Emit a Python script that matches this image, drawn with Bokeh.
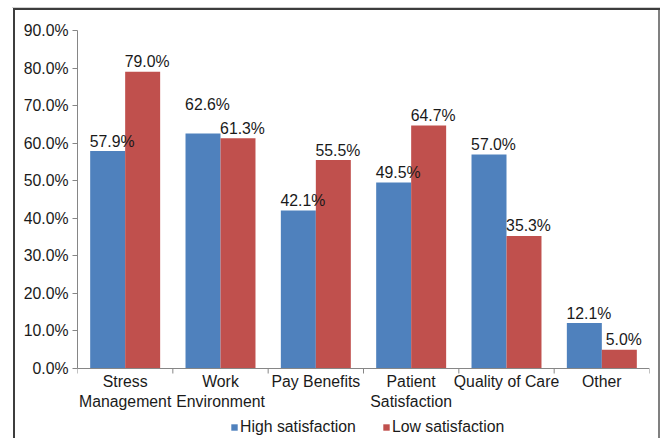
import math
from bokeh.plotting import figure
from bokeh.models import (ColumnDataSource, FixedTicker, PrintfTickFormatter, Range1d,
                          Legend, LegendItem, Span)
from bokeh.transform import dodge
from bokeh.core.properties import value
from bokeh.embed import file_html
from bokeh.resources import INLINE

categories = ["Stress Management", "Work Environment", "Pay Benefits",
              "Patient Satisfaction", "Quality of Care", "Other"]
category_labels = ["Stress\nManagement", "Work\nEnvironment", "Pay Benefits",
                   "Patient\nSatisfaction", "Quality of Care", "Other"]
high_satisfaction = [57.9, 62.6, 42.1, 49.5, 57.0, 12.1]
low_satisfaction = [79.0, 61.3, 55.5, 64.7, 35.3, 5.0]
y_ticks = [0, 10, 20, 30, 40, 50, 60, 70, 80, 90]

# extra upward shift (px) of data labels, to keep them from overlapping (style only)
high_label_lift = [0, 19, 0, 0, 0, 0]
low_label_lift = [0, 0, 0, 0, 0, 0]

FONT = "Liberation Sans"
FS = "15.8px"
BLUE = "#4F81BD"
RED = "#C0504D"
AXIS = "#868686"
TXT = "#1a1a1a"

# plot geometry (px): axis area top=30, x axis at 368, canvas bottom 438
H, TOP, AXIS_Y = 438, 30, 368
Y_MAX = y_ticks[-1]
y_lo = -Y_MAX * (H - AXIS_Y) / (AXIS_Y - TOP)   # room below the 0 line for labels/legend

n = len(categories)
pos = [i + 0.5 for i in range(n)]
bounds = list(range(n + 1))
src = ColumnDataSource(dict(
    x=pos, cat=categories, cat_label=category_labels,
    zero=[0] * n,
    high=high_satisfaction, low=low_satisfaction,
    high_label=["%.1f%%" % v for v in high_satisfaction],
    low_label=["%.1f%%" % v for v in low_satisfaction],
    high_off=[-10 - d for d in high_label_lift],
    low_off=[-10 - d for d in low_label_lift],
))

p = figure(width=660, height=H, x_range=Range1d(0, n),
           y_range=Range1d(y_lo, Y_MAX), output_backend="svg", toolbar_location=None,
           x_axis_location=None,
           min_border_left=77, min_border_right=11, min_border_top=TOP,
           min_border_bottom=0)
p.outline_line_color = None
p.grid.visible = False
p.background_fill_color = "white"
p.border_fill_alpha = 0
# outer chart frame (left, top and right edges) drawn behind the transparent border
p.styles = {
    "background": ("linear-gradient(#3d3d3d,#3d3d3d) 13px 8px / 2px 470px no-repeat, "
                   "linear-gradient(#3d3d3d,#3d3d3d) 13px 8px / 660px 2px no-repeat, "
                   "linear-gradient(#d0d0d0,#d0d0d0) 12px 7px / 660px 1px no-repeat, "
                   "linear-gradient(#808080,#808080) 658px 8px / 2px 470px no-repeat, "
                   "white"),
}

W = 0.367
off = W / 2
r1 = p.vbar(x=dodge("x", -off), top="high", bottom=0, width=W, source=src,
            fill_color=BLUE, line_color=None)
r2 = p.vbar(x=dodge("x", off), top="low", bottom=0, width=W, source=src,
            fill_color=RED, line_color=None)

for col, lab, yo, d in (("high", "high_label", "high_off", -off),
                        ("low", "low_label", "low_off", off)):
    p.text(x=dodge("x", d), y=col, text=lab, source=src, x_offset=4.5, y_offset=yo,
           text_align="center", text_baseline="alphabetic",
           text_font=value(FONT), text_font_size=FS, text_color=TXT)

# category (x) axis: line at 0, ticks at category boundaries, labels under centres
p.add_layout(Span(location=0, dimension="width", line_color=AXIS, line_width=1))
p.ray(x=bounds, y=[0] * len(bounds), length=5, length_units="screen",
      angle=-math.pi / 2, line_color=AXIS, line_width=1)
p.text(x="x", y="zero", text="cat_label", source=src, y_offset=4.5,
       text_align="center", text_baseline="top", text_line_height=1.2,
       text_font=value(FONT), text_font_size=FS, text_color=TXT)

# y axis
p.yaxis.ticker = FixedTicker(ticks=y_ticks)
p.yaxis.bounds = (0, Y_MAX)
p.yaxis.formatter = PrintfTickFormatter(format="%.1f%%")
p.yaxis.major_tick_out = 5
p.yaxis.major_tick_in = 0
p.yaxis.minor_tick_line_color = None
p.yaxis.axis_line_color = AXIS
p.yaxis.major_tick_line_color = AXIS
p.yaxis.major_label_standoff = 4
p.yaxis.major_label_text_font = FONT
p.yaxis.major_label_text_font_size = FS
p.yaxis.major_label_text_color = TXT

legend = Legend(items=[LegendItem(label="High satisfaction", renderers=[r1]),
                       LegendItem(label="Low satisfaction", renderers=[r2])],
                orientation="horizontal", location=(153, 2), padding=0, margin=0,
                spacing=26, glyph_width=8, glyph_height=8, label_standoff=2,
                label_height=16,
                border_line_color=None, background_fill_alpha=0,
                label_text_font=FONT, label_text_font_size=FS,
                label_text_color=TXT)
p.add_layout(legend)

open("out.html", "w").write(file_html(p, INLINE))
